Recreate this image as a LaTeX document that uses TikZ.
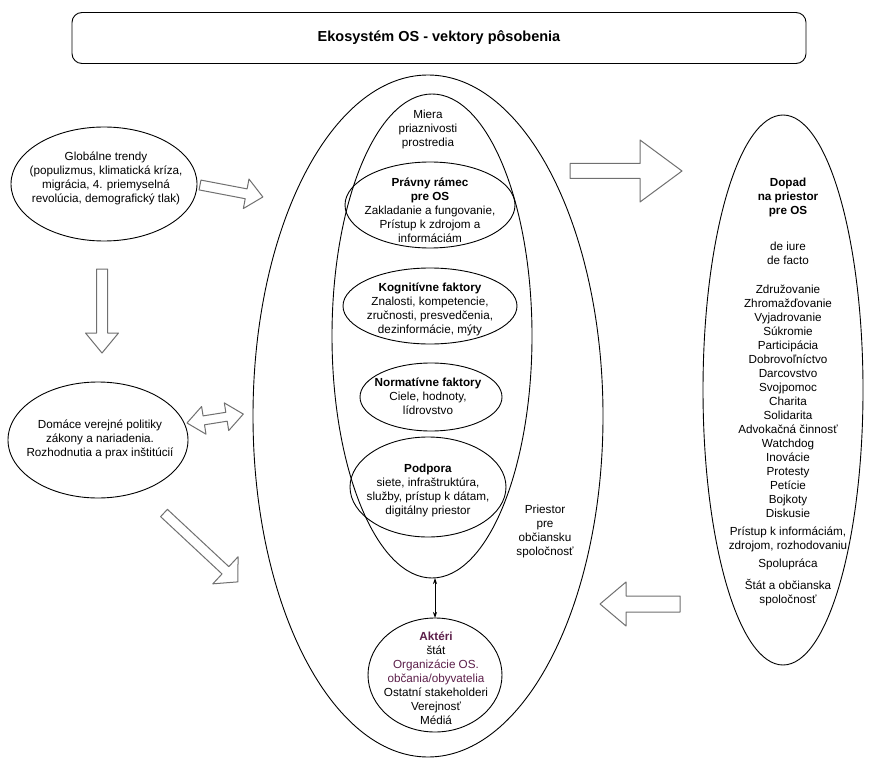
\documentclass[tikz,border=0pt]{standalone}
\usepackage{fontspec}
\setmainfont{Liberation Sans}
\usetikzlibrary{shapes.geometric,arrows.meta}
\definecolor{actorpurple}{HTML}{5C1F4A}
\definecolor{arrowgray}{HTML}{707070}
\tikzset{
  txt/.style={align=center,inner sep=0pt,font=\fontsize{11.7}{14}\selectfont},
  oval/.style={draw=black,line width=0.9pt,ellipse,inner sep=0pt,outer sep=0pt},
  blockarrow/.style={draw=arrowgray,fill=white,line width=1pt,line join=round},
  pics/barrow/.style n args={4}{code={
    \draw[blockarrow] (0,-#2/2) -- (#1-#4,-#2/2) -- (#1-#4,-#3/2) -- (#1,0)
      -- (#1-#4,#3/2) -- (#1-#4,#2/2) -- (0,#2/2) -- cycle;
  }},
  pics/dbarrow/.style n args={4}{code={
    \draw[blockarrow] (0,0) -- (#4,-#3/2) -- (#4,-#2/2) -- (#1-#4,-#2/2)
      -- (#1-#4,-#3/2) -- (#1,0) -- (#1-#4,#3/2) -- (#1-#4,#2/2)
      -- (#4,#2/2) -- (#4,#3/2) -- cycle;
  }}
}
\begin{document}
\begin{tikzpicture}[x=1pt,y=-1pt]
\useasboundingbox[fill=white] (0,0) rectangle (869,759);

% title
\node[draw=black,line width=0.9pt,rounded corners=10pt,minimum width=734pt,minimum height=51pt,
      font=\fontsize{14.5}{17}\selectfont\bfseries] (title) at (439,38) {Ekosystém OS - vektory pôsobenia};

% left ellipses
\node[oval,minimum width=186pt,minimum height=114pt] (glob) at (104,184) {};
\node[txt] (globt) at (106,178) {Globálne trendy\\(populizmus, klimatická kríza,\\migrácia, 4. priemyselná\\revolúcia, demografický tlak)};

\node[oval,minimum width=180pt,minimum height=116pt] (dom) at (98,440) {};
\node[txt] (domt) at (100,439) {Domáce verejné politiky\\zákony a nariadenia.\\Rozhodnutia a prax inštitúcií};

% outer space ellipse
\node[oval,minimum width=350pt,minimum height=682pt] (outer) at (428,416) {};
% inner tall ellipse
\node[oval,minimum width=200pt,minimum height=484pt] (inner) at (432,336) {};
\node[txt] (mierat) at (428,129) {Miera\\priaznivosti\\prostredia};

\node[oval,minimum width=170pt,minimum height=86pt] (prav) at (430,205) {};
\node[txt] (pravt) at (430,210) {\textbf{Právny rámec}\\\textbf{pre OS}\\Zakladanie a fungovanie,\\Prístup k zdrojom a\\informáciám};

\node[oval,minimum width=174pt,minimum height=76pt] (kogn) at (430,306) {};
\node[txt] (kognt) at (430,309) {\textbf{Kognitívne faktory}\\Znalosti, kompetencie,\\zručnosti, presvedčenia,\\dezinformácie, mýty};

\node[oval,minimum width=142pt,minimum height=68pt] (norm) at (431,397) {};
\node[txt] (normt) at (428,396) {\textbf{Normatívne faktory}\\Ciele, hodnoty,\\lídrovstvo};

\node[oval,minimum width=156pt,minimum height=100pt] (podp) at (428,487) {};
\node[txt] (podpt) at (428,490) {\textbf{Podpora}\\siete, infraštruktúra,\\služby, prístup k dátam,\\digitálny priestor};

\node[txt] (priet) at (545,531) {Priestor\\pre\\občiansku\\spoločnosť};

% actors
\node[oval,minimum width=134pt,minimum height=114pt] (akt) at (435,675) {};
\node[txt] (aktt) at (436,678) {\textcolor{actorpurple}{\textbf{Aktéri}}\\štát\\\textcolor{actorpurple}{Organizácie OS.}\\\textcolor{actorpurple}{občania/obyvatelia}\\Ostatní stakeholderi\\Verejnosť\\Médiá};
\draw[{Stealth[length=6pt,width=4pt]}-{Stealth[length=6pt,width=4pt]},line width=0.8pt]
  (akt.north) -- (akt.north |- inner.south);

% right ellipse
\node[oval,minimum width=160pt,minimum height=550pt] (dop) at (783,390) {};
\node[txt] (dopa) at (788,197.5) {\textbf{Dopad}\\\textbf{na priestor}\\\textbf{pre OS}};
\node[txt] (dopb) at (788,253.5) {de iure\\de facto};
\node[txt] (dopc) at (788,401) {Združovanie\\Zhromažďovanie\\Vyjadrovanie\\Súkromie\\Participácia\\Dobrovoľníctvo\\Darcovstvo\\Svojpomoc\\Charita\\Solidarita\\Advokačná činnosť\\Watchdog\\Inovácie\\Protesty\\Petície\\Bojkoty\\Diskusie};
\node[txt] (dopd) at (788,539.5) {Prístup k informáciám,\\zdrojom, rozhodovaniu};
\node[txt] (dope) at (788,564) {Spolupráca};
\node[txt] (dopf) at (788,593) {Štát a občianska\\spoločnosť};

% block arrows
\pic[rotate=-10.8] at (200,185) {barrow={64}{10}{30}{17}};
\pic[rotate=-90] at (102,269) {barrow={84}{11}{33}{20}};
\pic[rotate=9] at (187,423) {dbarrow={57}{9}{28}{17}};
\pic[rotate=-43] at (164,513) {barrow={101}{10}{37}{17}};
\pic at (570,171) {barrow={112}{15}{62}{42}};
\pic[rotate=180] at (680,604) {barrow={80}{16}{44}{26}};
\end{tikzpicture}
\end{document}
